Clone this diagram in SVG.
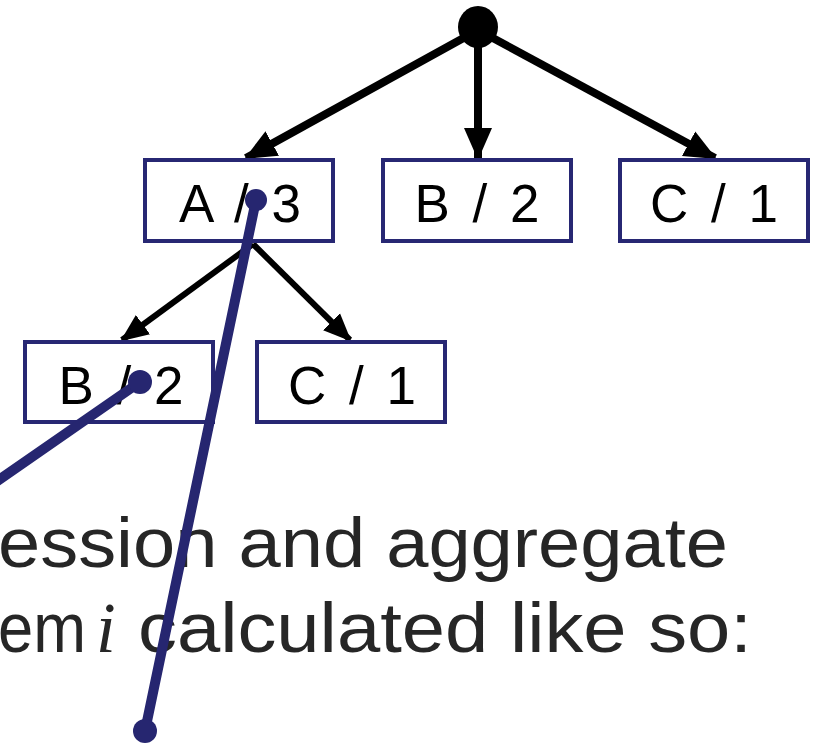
<svg xmlns="http://www.w3.org/2000/svg" width="820" height="744" viewBox="0 0 820 744">
  <style>
    .box rect { fill: #fff; stroke: #272773; stroke-width: 4; }
    .box text { font-family: "Liberation Sans", Arial, sans-serif; font-size: 53px; fill: #000; text-anchor: middle; word-spacing: 8px; }
    .edge { stroke: #000; fill: none; }
    .e1 { stroke-width: 8; marker-end: url(#head-lg); }
    .e2 { stroke-width: 6; marker-end: url(#head-sm); }
    .pen { stroke: #262670; stroke-width: 10; stroke-linecap: round; fill: none; }
    .dot { fill: #262670; }
    .para { font-family: "Liberation Sans", Arial, sans-serif; font-size: 71px; fill: #262626; }
  </style>
  <defs>
    <marker id="head-lg" markerUnits="userSpaceOnUse" markerWidth="32" markerHeight="32" viewBox="0 0 32 32" refX="30" refY="16" orient="auto">
      <path d="M0,2 L32,16 L0,30 Z" fill="#000"/>
    </marker>
    <marker id="head-sm" markerUnits="userSpaceOnUse" markerWidth="28" markerHeight="28" viewBox="0 0 28 28" refX="26" refY="14" orient="auto">
      <path d="M0,2 L28,14 L0,26 Z" fill="#000"/>
    </marker>
  </defs>

  <!-- tree connectors -->
  <g id="connectors">
    <path class="edge e1" d="M478,30 L246,158"/>
    <path class="edge e1" d="M478,30 L478,158"/>
    <path class="edge e1" d="M478,30 L715,158"/>
    <path class="edge e2" d="M253,244 L122,340"/>
    <path class="edge e2" d="M253,244 L350,340"/>
  </g>

  <!-- root -->
  <g id="root">
    <ellipse cx="478" cy="27" rx="20" ry="21" fill="#000"/>
  </g>

  <g id="node-a3" class="box">
    <rect x="145" y="160" width="188" height="81"/>
    <text x="240" y="222">A / 3</text>
  </g>
  <g id="node-b2" class="box">
    <rect x="383" y="160" width="188" height="81"/>
    <text x="477" y="222">B / 2</text>
  </g>
  <g id="node-c1" class="box">
    <rect x="620" y="160" width="188" height="81"/>
    <text x="714" y="222">C / 1</text>
  </g>
  <g id="node-a-b2" class="box">
    <rect x="25" y="342" width="188" height="80"/>
    <text x="121" y="404">B / 2</text>
  </g>
  <g id="node-a-c1" class="box">
    <rect x="257" y="342" width="188" height="80"/>
    <text x="352" y="404">C / 1</text>
  </g>

  <!-- paragraph text -->
  <text class="para" x="-2" y="567" textLength="730" lengthAdjust="spacingAndGlyphs">ession and aggregate</text>
  <text class="para" x="-2" y="652">
    <tspan textLength="88" lengthAdjust="spacingAndGlyphs">em</tspan><tspan x="96" font-family="Liberation Serif, serif" font-style="italic">i</tspan><tspan x="138" textLength="614" lengthAdjust="spacingAndGlyphs">calculated like so:</tspan>
  </text>

  <!-- annotation strokes -->
  <g id="annotations">
    <line class="pen" x1="256" y1="200" x2="145" y2="731"/>
    <circle class="dot" cx="256" cy="200" r="11"/>
    <circle class="dot" cx="145" cy="731" r="12"/>
    <line class="pen" x1="140" y1="382" x2="-10" y2="486"/>
    <circle class="dot" cx="140" cy="382" r="12"/>
  </g>
</svg>
